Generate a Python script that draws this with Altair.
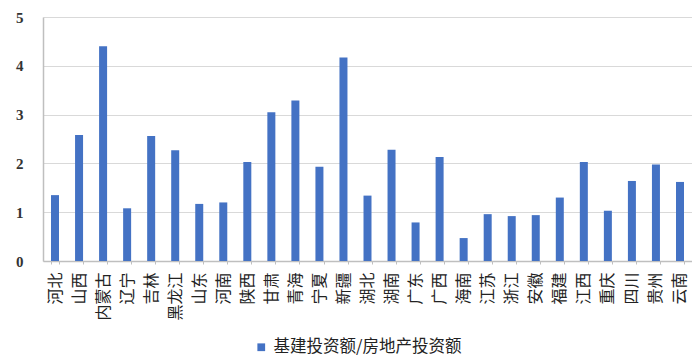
import altair as alt
import pandas as pd

provinces = ["河北", "山西", "内蒙古", "辽宁", "吉林", "黑龙江", "山东", "河南", "陕西",
             "甘肃", "青海", "宁夏", "新疆", "湖北", "湖南", "广东", "广西", "海南",
             "江苏", "浙江", "安徽", "福建", "江西", "重庆", "四川", "贵州", "云南"]
ratios = [1.35, 2.58, 4.40, 1.08, 2.56, 2.27, 1.17, 1.20, 2.03,
          3.05, 3.29, 1.93, 4.17, 1.34, 2.28, 0.79, 2.13, 0.47,
          0.96, 0.92, 0.94, 1.30, 2.03, 1.03, 1.64, 1.98, 1.62]
series_name = "基建投资额/房地产投资额"

df = pd.DataFrame({"province": provinces, "ratio": ratios, "series": series_name})

chart = alt.Chart(df).mark_bar(size=8, color="#4472C4").encode(
    x=alt.X("province:N", sort=provinces, title=None,
            scale=alt.Scale(paddingInner=0.66, paddingOuter=0.33),
            axis=alt.Axis(labelAngle=-90, labelAlign="right", labelBaseline="middle",
                          labelFont="Noto Sans CJK SC", labelFontSize=16, labelColor="#222222",
                          labelPadding=8, ticks=True, tickBand="extent", tickSize=3,
                          tickColor="#bfbfbf", domainColor="#bfbfbf", domainWidth=1.5,
                          grid=False)),
    y=alt.Y("ratio:Q", title=None,
            scale=alt.Scale(domain=[0, 5], nice=False),
            axis=alt.Axis(values=[0, 1, 2, 3, 4, 5], ticks=False, labelPadding=20,
                          labelFont="Liberation Serif", labelFontSize=15, labelFontWeight="bold",
                          labelColor="#333333", domainColor="#bfbfbf", domainWidth=1.5,
                          gridColor="#d9d9d9", gridWidth=1.2)),
    color=alt.Color("series:N", scale=alt.Scale(range=["#4472C4"]),
                    legend=alt.Legend(title=None, orient="none", legendX=210, legendY=322,
                                      symbolType="square", symbolSize=60, labelLimit=0,
                                      labelFont="Noto Sans CJK SC", labelFontSize=16.5,
                                      labelColor="#222222")),
).properties(
    width=649, height=244,
    padding={"left": 35, "top": 9, "right": 0, "bottom": 95},
    autosize=alt.AutoSizeParams(type="none"),
).configure_view(stroke=None)

chart.save("out.html", embed_options={"renderer": "svg", "actions": False})
